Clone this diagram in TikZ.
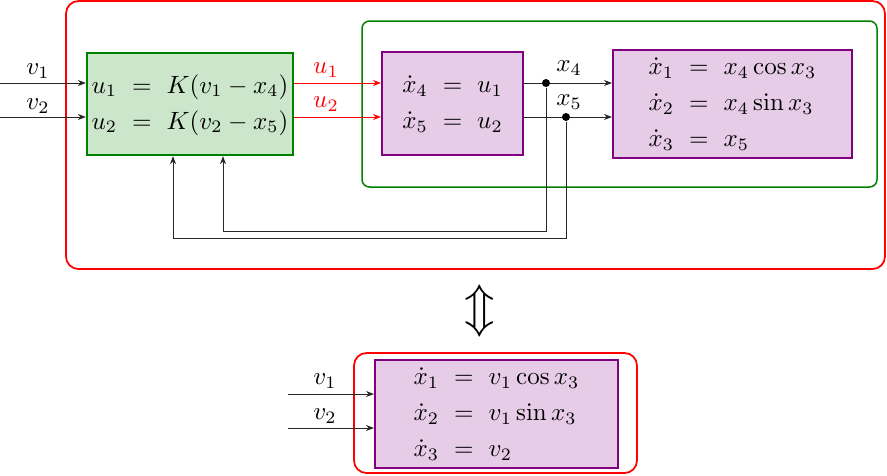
\documentclass[tikz,border=0pt]{standalone}
\usetikzlibrary{arrows.meta,calc}
\definecolor{dgreen}{RGB}{0,128,0}
\definecolor{mpurple}{RGB}{128,0,128}
\newcommand\pxu{0.4pt}
\newcommand\eqsp{\hspace{6pt}}
\tikzset{
  conn/.style={draw=black!85, thin, -{Stealth[length=3.2pt,width=2.4pt]}},
  rconn/.style={draw=red, thin, -{Stealth[length=3.2pt,width=2.4pt]}},
  gbox/.style={draw=dgreen, line width=0.9pt, fill=dgreen!20, inner sep=0pt},
  pbox/.style={draw=mpurple, line width=0.8pt, fill=mpurple!20, inner sep=0pt},
  redframe/.style={draw=red, line width=0.7pt, rounded corners=5pt},
  greenframe/.style={draw=dgreen, line width=0.6pt, rounded corners=3pt},
  dot/.style={circle, fill=black, inner sep=0pt, minimum size=3.2pt},
  lbl/.style={inner sep=0pt}
}
\renewcommand{\arraystretch}{1.2}
\begin{document}
\begin{tikzpicture}[x=\pxu,y=-\pxu]
\useasboundingbox (0,0) rectangle (887,475);
% frames
\draw[redframe] (66,1) rectangle (885,269);
\draw[greenframe] (362,21) rectangle (877,187);
% boxes
\node[gbox, minimum width={206*\pxu}, minimum height={102*\pxu}] (K) at (190,104)
  {$\begin{array}{@{}r@{\eqsp}c@{\eqsp}l@{}} u_1 &=& K(v_1-x_4)\\ u_2 &=& K(v_2-x_5)\end{array}$};
\node[pbox, minimum width={141*\pxu}, minimum height={103*\pxu}] (P1) at (452.5,103.5)
  {$\begin{array}{r@{\eqsp}c@{\eqsp}l} \dot x_4 &=& u_1\\ \dot x_5 &=& u_2\end{array}$};
\node[pbox, minimum width={239*\pxu}, minimum height={103*\pxu}] (P2) at (732.5,103.5)
  {$\begin{array}{r@{\eqsp}c@{\eqsp}l} \dot x_1 &=& x_4\cos x_3\\ \dot x_2 &=& x_4\sin x_3\\ \dot x_3 &=& x_5\end{array}$};
% rows
\coordinate (r1) at (0,83);
\coordinate (r2) at (0,117);
% inputs
\draw[conn] (r1) -- (r1 -| K.west);
\draw[conn] (r2) -- (r2 -| K.west);
\node[lbl] (v1) at (38,71) {$v_1$};
\node[lbl] (v2) at (38,106) {$v_2$};
% red u arrows
\draw[rconn] (r1 -| K.east) -- (r1 -| P1.west);
\draw[rconn] (r2 -| K.east) -- (r2 -| P1.west);
\node[lbl, text=red] (u1) at (326,70) {$u_1$};
\node[lbl, text=red] (u2) at (326,104) {$u_2$};
% x4 x5
\draw[conn] (r1 -| P1.east) -- (r1 -| P2.west);
\draw[conn] (r2 -| P1.east) -- (r2 -| P2.west);
\node[dot] (d4) at (546,83) {};
\node[dot] (d5) at (566,117) {};
\node[lbl] (x4) at (569,68) {$x_4$};
\node[lbl] (x5) at (569,102) {$x_5$};
% feedback
\coordinate (f4) at (223,231);
\coordinate (f5) at (173,238);
\draw[conn] (d4) |- (f4) -- (f4 |- K.south);
\draw[conn] (d5) |- (f5) -- (f5 |- K.south);
% equivalence
\node[lbl] (eq) at (480,311) {\scalebox{2}{$\Updownarrow$}};
% bottom
\draw[redframe] (354,353) rectangle (637,473);
\node[pbox, minimum width={243*\pxu}, minimum height={103*\pxu}] (B) at (496.5,413.5)
  {$\begin{array}{r@{\eqsp}c@{\eqsp}l} \dot x_1 &=& v_1\cos x_3\\ \dot x_2 &=& v_1\sin x_3\\ \dot x_3 &=& v_2\end{array}$};
\coordinate (s1) at (288,394);
\coordinate (s2) at (288,428);
\draw[conn] (s1) -- (s1 -| B.west);
\draw[conn] (s2) -- (s2 -| B.west);
\node[lbl] (w1) at (325,381) {$v_1$};
\node[lbl] (w2) at (325,416) {$v_2$};
\end{tikzpicture}
\end{document}
